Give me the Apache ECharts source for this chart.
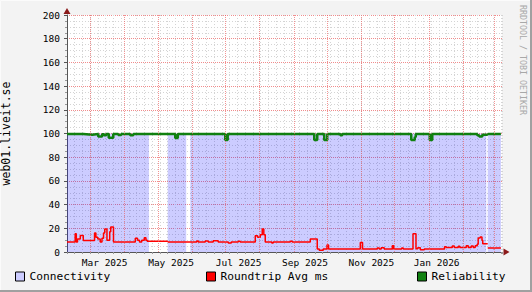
<!DOCTYPE html>
<html><head><meta charset="utf-8">
<script src="https://cdn.jsdelivr.net/npm/echarts@6/dist/echarts.min.js"></script>
<style>html,body{margin:0;padding:0;background:#f3f3f3}#c{width:532px;height:292px}</style>
</head><body><div id="c"></div>
<script>
// x values are days counted from 1 Mar 2025
const dayMin = -21, dayMax = 372;
const monthStarts = [0, 31, 61, 92, 122, 153, 184, 214, 245, 275, 306, 337, 365];
const tickLabels = ['Mar 2025', 'May 2025', 'Jul 2025', 'Sep 2025', 'Nov 2025', 'Jan 2026'];
const tickDays = [13, 73, 134, 194, 254, 313];
const seriesNames = ['Connectivity', 'Roundtrip Avg ms', 'Reliability'];

const connectivitySegments = [
  [[-21, 100], [53, 100]],
  [[70, 100], [86.7, 100]],
  [[90.4, 100], [357.8, 100]],
  [[359.1, 100], [371, 100]]
];

const roundtripSegments = [
  [[-21, 8.4], [-13.6, 15.5], [-12.6, 8.4], [-11.5, 11], [-9, 14], [-6.3, 9.6], [3.9, 16], [5.1, 12.5], [6.8, 11], [9, 8.4],
   [10.6, 11.5], [12, 16], [13.1, 19.5], [15.1, 10], [17.6, 17], [18.5, 21], [21, 8.4], [40.7, 11.5], [42.7, 10], [44.5, 8.4],
   [46.5, 10], [48.8, 12], [50.3, 10], [51.5, 9], [53, 9]],
  [[70, 8.4], [86.7, 8.4]],
  [[90.4, 8.4], [96.2, 9.2], [97.6, 8.4], [103.9, 9.3], [106.6, 8.4], [111.1, 9.5], [115.6, 8.4], [124.7, 7.6], [127.4, 8.4],
   [133.7, 9], [135.5, 8.4], [149.1, 13.7], [151.2, 12.5], [153.6, 14.6], [155.4, 19.4], [156.8, 14.6], [158.1, 8.4],
   [164, 7.6], [165.3, 8.4], [180.7, 9], [182.5, 8.4], [198.8, 11], [205.1, 2.6], [206.9, 1.4], [210.5, 2.6], [213.9, 6],
   [215.3, 2.6], [244, 8], [246, 2.6], [259.3, 3.4], [261.1, 2.6], [262.9, 3.6], [265.6, 2.6], [272.9, 5.2], [274.2, 2.6],
   [281.4, 3.4], [282.8, 2.6], [291.6, 15.4], [294.3, 2.8], [295.9, 3.5], [298.2, 1.9], [301.8, 2.6], [320.1, 4.5],
   [321.6, 3.9], [327.1, 5], [328.9, 3.9], [332.5, 4.8], [333.9, 3.9], [339.7, 5.2], [341.5, 3.9], [344.2, 5], [346, 3.9],
   [347.8, 5.2], [349.6, 6.5], [350.5, 11.8], [352.3, 12.6], [353.9, 10], [354.6, 7], [357.8, 7]],
  [[359.1, 3.4], [371, 3.4]]
];

const reliabilitySegments = [
  [[-21, 99.5], [-6.3, 99], [1.8, 99.5], [7.2, 97.5], [10.8, 99.3], [12.6, 98.5], [14.5, 99.5], [16.7, 96.5], [20.8, 99.5],
   [25.3, 98.8], [28, 99.5], [36.1, 98.5], [38.9, 99.5], [53, 99.5]],
  [[70, 99.5], [76.8, 96.3], [79.1, 99.5], [86.7, 99.5]],
  [[90.4, 99.5], [122, 94.5], [124.2, 99.5], [202.4, 94.5], [205.1, 99.5], [211.4, 94.5], [214.1, 99.5], [225.9, 98.5],
   [227.7, 99.5], [290, 94.5], [293.2, 97], [294.1, 99.5], [306.7, 94.5], [309, 99.5], [349.6, 98.5], [351.4, 97.5],
   [354.2, 99], [357.8, 99]],
  [[359.1, 99.5], [371, 99.5]]
];

function join(segs) {
  const out = [];
  segs.forEach((s, i) => { if (i) out.push([s[0][0], null]); s.forEach(p => out.push(p)); });
  return out;
}

const font = "'DejaVu Sans Mono', monospace";
const colors = ['#ccccff', '#ff0000', '#108010'];
const legendLeft = [15, 206, 417];
const minorGrid = {color: '#d4d4d4', width: 1, type: [1, 2]};

const chart = echarts.init(document.getElementById('c'), null, {renderer: 'svg'});
chart.setOption({
  backgroundColor: '#f3f3f3',
  animation: false,
  grid: {left: 67, top: 15, right: 30, bottom: 40, show: true, backgroundColor: '#ffffff', borderWidth: 0,
         containLabel: false, outerBoundsMode: 'none'},
  xAxis: [
    {
      type: 'value', min: dayMin, max: dayMax, interval: 7, position: 'bottom',
      axisLine: {show: false, onZero: false}, axisLabel: {show: false},
      axisTick: {show: true, length: 2, lineStyle: {color: '#999'}},
      splitLine: {show: true, lineStyle: minorGrid}
    },
    {
      type: 'value', min: dayMin, max: dayMax, position: 'bottom',
      axisLine: {show: true, onZero: false, lineStyle: {color: '#555', width: 1}},
      axisTick: {show: false},
      axisLabel: {
        customValues: tickDays, margin: 5,
        formatter: v => tickLabels[tickDays.indexOf(v)] || '',
        fontFamily: font, fontSize: 9.5, color: '#000'
      },
      splitLine: {show: false}
    }
  ],
  yAxis: {
    type: 'value', min: 0, max: 200, interval: 20,
    name: 'web01.liveit.se', nameLocation: 'middle', nameRotate: 90, nameGap: 55,
    nameTextStyle: {fontFamily: font, fontSize: 11.5, color: '#000'},
    axisLine: {show: true, onZero: false, lineStyle: {color: '#555'}},
    axisTick: {show: true, length: 3, lineStyle: {color: '#555'}},
    minorTick: {show: true, splitNumber: 4, length: 2, lineStyle: {color: '#999'}},
    axisLabel: {fontFamily: font, fontSize: 9.5, color: '#000', margin: 7},
    splitLine: {show: true, lineStyle: {color: '#f08c8c', width: 1, type: [1, 1]}},
    minorSplitLine: {show: true, lineStyle: minorGrid}
  },
  legend: seriesNames.map((n, i) => ({
    data: [{name: n, itemStyle: {color: colors[i], borderColor: '#000', borderWidth: 1}}],
    left: legendLeft[i], top: 271, icon: 'rect', itemWidth: 9, itemHeight: 9, padding: 0,
    selectedMode: false, textStyle: {fontFamily: font, fontSize: 11.2, color: '#000'}
  })),
  series: [
    {
      name: seriesNames[0], type: 'line', xAxisIndex: 1, data: join(connectivitySegments),
      symbol: 'none', silent: true, lineStyle: {width: 0}, itemStyle: {color: colors[0]},
      areaStyle: {color: 'rgba(0,0,255,0.2)', opacity: 1}, z: 2,
      markLine: {
        silent: true, symbol: ['none', 'none'], label: {show: false}, animation: false,
        lineStyle: {color: 'rgba(235,90,90,0.65)', width: 1, type: [1, 1], opacity: 1},
        data: monthStarts.map(d => ({xAxis: d}))
      }
    },
    {
      name: seriesNames[1], type: 'line', xAxisIndex: 1, step: 'end', data: join(roundtripSegments),
      symbol: 'none', silent: true, lineStyle: {color: colors[1], width: 1.5}, itemStyle: {color: colors[1]}, z: 3
    },
    {
      name: seriesNames[2], type: 'line', xAxisIndex: 1, step: 'end', data: join(reliabilitySegments),
      symbol: 'none', silent: true, lineStyle: {color: colors[2], width: 2.5}, itemStyle: {color: colors[2]}, z: 4
    }
  ],
  graphic: [
    {type: 'polyline', shape: {points: [[531, 0], [531, 291], [0, 291]]}, style: {stroke: '#a0a0a0', lineWidth: 2, fill: null}, silent: true},
    {type: 'polyline', shape: {points: [[0.5, 290], [0.5, 0.5], [530, 0.5]]}, style: {stroke: '#fbfbfb', lineWidth: 1, fill: null}, silent: true},
    {type: 'polygon', shape: {points: [[63.5, 14], [70.5, 14], [67, 8]]}, style: {fill: '#8b1a1a'}, silent: true},
    {type: 'polygon', shape: {points: [[503.5, 248.5], [503.5, 255.5], [509.5, 252]]}, style: {fill: '#8b1a1a'}, silent: true},
    {type: 'text', x: 522.5, y: 60, rotation: -Math.PI / 2, silent: true,
     style: {text: 'RRDTOOL / TOBI OETIKER', fill: '#a8a8a8', font: "8.3px 'DejaVu Sans Mono'", align: 'center', verticalAlign: 'middle'}}
  ]
});
</script>
</body></html>
